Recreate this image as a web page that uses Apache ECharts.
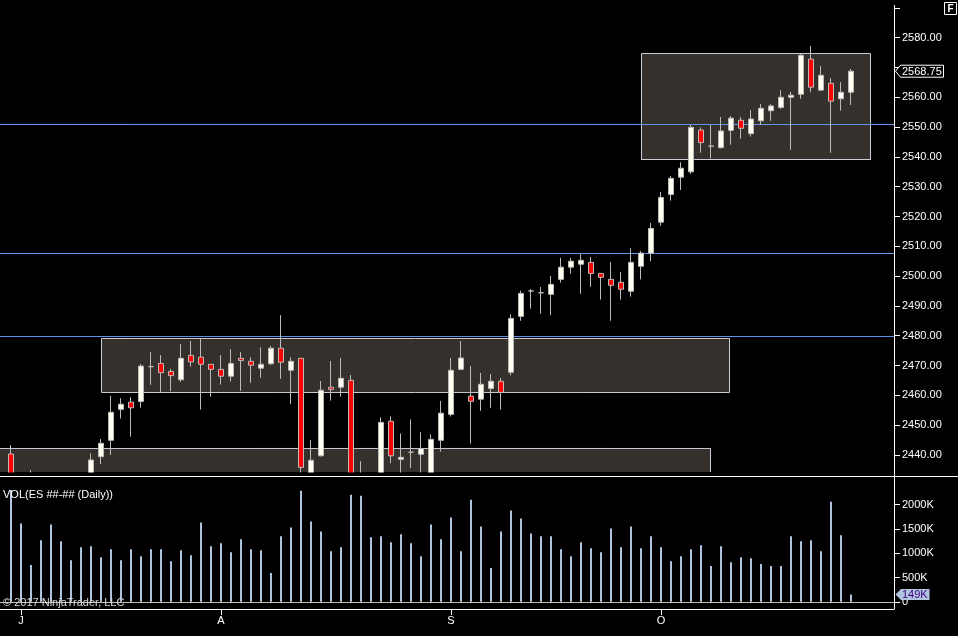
<!DOCTYPE html>
<html>
<head>
  <meta charset="utf-8">
  <title>ES Daily</title>
  <style>
    html, body { margin: 0; padding: 0; background: #000; }
    #chart { width: 958px; height: 636px; }
  </style>
</head>
<body>
  <div id="chart"></div>
</body>
<script src="https://cdn.jsdelivr.net/npm/echarts@6/dist/echarts.min.js"></script>
<script>
  // daily bars, index 0..84 (Jul - Oct)
  var opens = [2440.3, 2423, 2428, 2425, 2418, 2424, 2421, 2426, 2430, 2439.4,
    2444.9, 2455.3, 2457.7, 2457.9, 2469.6, 2470.7, 2468.0, 2465.2, 2473.4, 2472.8,
    2470.4, 2468.7, 2466.4, 2472.4, 2471.4, 2469.1, 2470.6, 2475.8, 2468.4, 2472.4,
    2430, 2439.7, 2462.7, 2462.7, 2465.0, 2428, 2425, 2422, 2451.3, 2438.5,
    2440.9, 2440.2, 2432, 2444.9, 2453.6, 2468.7, 2459.7, 2458.7, 2462.3, 2464.7,
    2467.7, 2486.5, 2495.0, 2494.4, 2493.9, 2498.9, 2503.0, 2504.0, 2504.6, 2500.9,
    2498.9, 2497.9, 2494.9, 2503.3, 2507.7, 2518.1, 2527.4, 2533.2, 2535.0, 2549.0,
    2543.6, 2543.1, 2548.9, 2552.3, 2547.8, 2552.1, 2555.5, 2556.6, 2560.0, 2561.0,
    2572.8, 2562.4, 2564.7, 2559.5, 2561.7];
  var highs = [2443.3, 2431, 2434.9, 2432, 2426, 2430, 2428, 2433, 2440.5, 2445.3,
    2459.8, 2459.0, 2459.4, 2470.5, 2474.5, 2473.5, 2468.9, 2477.2, 2478.2, 2479.1,
    2470.4, 2473.5, 2475.5, 2474.5, 2472.8, 2476.1, 2476.5, 2486.9, 2472.8, 2472.4,
    2445, 2464.8, 2471.5, 2472.5, 2466.8, 2437.9, 2432, 2452.6, 2452.9, 2447.2,
    2451.9, 2447.6, 2446.9, 2458.1, 2472.5, 2478.2, 2469.8, 2467.5, 2467.1, 2465.8,
    2487.2, 2495.1, 2495.7, 2496.3, 2500.0, 2506.1, 2506.1, 2507.4, 2506.4, 2501.0,
    2504.7, 2501.4, 2509.4, 2508.4, 2517.8, 2528.2, 2533.6, 2538.2, 2550.7, 2549.9,
    2550.7, 2553.4, 2553.7, 2553.4, 2555.7, 2557.8, 2557.7, 2562.4, 2561.8, 2574.8,
    2577.2, 2570.5, 2566.4, 2565.1, 2569.5];
  var lows = [2418, 2419, 2420, 2415, 2410, 2418, 2416, 2422, 2428, 2436.9,
    2440.0, 2452.2, 2446.1, 2455.8, 2463.5, 2461.1, 2461.4, 2464.5, 2469.6, 2455.2,
    2459.5, 2463.6, 2464.6, 2461.5, 2464.2, 2465.9, 2470.1, 2465.5, 2457.1, 2430,
    2428, 2439.5, 2458.2, 2459.5, 2425, 2418, 2417, 2420, 2437.2, 2430,
    2435.6, 2430, 2428, 2441.1, 2452.9, 2468.4, 2443.8, 2454.8, 2455.8, 2455.2,
    2466.7, 2485.0, 2489.1, 2487.4, 2486.9, 2497.8, 2500.8, 2494.1, 2496.4, 2492.1,
    2485.0, 2492.1, 2493.1, 2498.9, 2505.0, 2516.9, 2525.3, 2528.9, 2534.3, 2541.4,
    2539.5, 2542.8, 2544.1, 2546.1, 2546.8, 2550.7, 2552.1, 2556.1, 2542.4, 2559.5,
    2561.7, 2562.1, 2541.4, 2555.5, 2557.4];
  var closes = [2422, 2428, 2424, 2418, 2424, 2421, 2426, 2430, 2438.3, 2443.9,
    2454.3, 2457.0, 2455.8, 2469.8, 2469.6, 2467.6, 2466.6, 2472.4, 2471.2, 2470.4,
    2468.7, 2466.4, 2470.7, 2471.7, 2470.1, 2470.4, 2475.8, 2471.1, 2471.4, 2435.8,
    2438.2, 2461.7, 2462.0, 2465.7, 2428, 2425, 2421, 2450.9, 2439.7, 2439.2,
    2440.9, 2442.1, 2445.2, 2454.0, 2468.4, 2472.5, 2458.0, 2463.7, 2464.7, 2461.0,
    2485.8, 2494.2, 2495.0, 2494.4, 2497.2, 2503.0, 2505.0, 2505.3, 2500.9, 2499.6,
    2496.9, 2495.6, 2504.6, 2507.7, 2516.0, 2526.4, 2532.8, 2536.2, 2549.9, 2544.8,
    2543.6, 2548.7, 2553.0, 2549.6, 2552.7, 2556.3, 2557.1, 2560.0, 2560.7, 2574.1,
    2563.4, 2567.4, 2558.7, 2561.7, 2568.75];
  // volume in K contracts
  var volumes = [2300, 1612, 755, 1265, 1592, 1245, 857, 1122, 1143, 918,
    1082, 857, 1082, 939, 1082, 1082, 837, 1061, 959, 1633,
    1143, 1204, 1020, 1286, 1082, 1061, 592, 1347, 1531, 2286,
    1653, 1449, 1041, 1122, 2204, 2184, 1327, 1347, 1224, 1388,
    1204, 939, 1592, 1286, 1735, 1041, 2102, 1551, 694, 1449,
    1878, 1714, 1408, 1347, 1347, 1082, 939, 1224, 1102, 1020,
    1510, 1122, 1551, 1102, 1347, 1122, 837, 939, 1082, 1163,
    735, 1143, 816, 918, 898, 776, 735, 735, 1347, 1245,
    1265, 1041, 2061, 1367, 149];

  // month ticks on the bottom axis
  var monthIdx = [1, 21, 44, 65];
  var monthText = ['J', 'A', 'S', 'O'];
  // 2570 and 2590 carry a tick but no label (hidden by the price tag / panel top)
  var priceTicks = [2440, 2450, 2460, 2470, 2480, 2490, 2500, 2510, 2520, 2530, 2540, 2550, 2560, 2570, 2580, 2590];
  var priceLabels = [2440, 2450, 2460, 2470, 2480, 2490, 2500, 2510, 2520, 2530, 2540, 2550, 2560, 2580];
  var volTicks = [0, 500, 1000, 1500, 2000];

  // horizontal levels and shaded zones [x0, x1, yTop, yBottom]
  var levels = [2550.87, 2507.58, 2479.73];
  var zones = [
    [-1.1, 69.95, 2442.15, 2434.26],
    [9.05, 71.85, 2479.06, 2460.94],
    [63.05, 85.95, 2574.7, 2539.12]
  ];

  var xMin = -1.1, xMax = 88.3;
  var yMin = 2434.26, yMax = 2590.97;
  var font = 'Liberation Sans, Arial, sans-serif';
  var zoneFill = '#35302b';
  var zoneBorder = '#c8ccd6';

  var candles = opens.map(function (o, i) {
    return [i, o, closes[i], lows[i], highs[i]];
  });
  var volData = volumes.map(function (v, i) {
    return [i, v];
  });
  var last = closes[closes.length - 1];
  var lastVol = volumes[volumes.length - 1];

  var areaData = zones.map(function (z, i) {
    return [{
      xAxis: z[0], yAxis: z[2],
      itemStyle: { color: zoneFill, borderColor: zoneBorder, borderWidth: i === 0 ? 0 : 1 }
    }, { xAxis: z[1], yAxis: z[3] }];
  });

  function flatLine(data, color) {
    return {
      type: 'line', xAxisIndex: 0, yAxisIndex: 0, z: 1.5,
      data: data, symbol: 'none', silent: true, animation: false,
      lineStyle: { color: color, width: 1 }
    };
  }

  var series = [
    {
      type: 'candlestick',
      xAxisIndex: 0, yAxisIndex: 0,
      z: 2,
      data: candles,
      barWidth: 6,
      itemStyle: {
        color: '#fffff0', color0: '#ff0000',
        borderColor: '#bcbcbc', borderColor0: '#bcbcbc', borderColorDoji: '#bcbcbc',
        borderWidth: 1
      },
      markArea: { silent: true, z: 1, data: areaData }
    },
    {
      type: 'bar',
      xAxisIndex: 1, yAxisIndex: 1,
      z: 5,
      data: volData,
      barWidth: 2,
      itemStyle: { color: '#b0c4de' },
      markLine: {
        silent: true, z: 5.5, symbol: 'none',
        lineStyle: { color: '#c0c0c0', width: 1, type: 'solid' },
        label: { show: false },
        data: [{ yAxis: 0 }]
      }
    }
  ];
  levels.forEach(function (v) {
    series.push(flatLine([[xMin, v], [xMax, v]], '#6495ed'));
  });
  // first zone runs off the bottom of the panel: draw its top and right edges only
  var z0 = zones[0];
  series.push(flatLine([[z0[0], z0[2]], [z0[1], z0[2]], [z0[1], z0[3]]], zoneBorder));

  var chart = echarts.init(document.getElementById('chart'));
  var option = {
    backgroundColor: '#000',
    animation: false,
    grid: [
      { left: 0, top: 5, width: 894, height: 467 },
      { left: 0, top: 477, width: 894, height: 132 }
    ],
    xAxis: [
      { type: 'value', gridIndex: 0, min: xMin, max: xMax, show: false },
      {
        type: 'value', gridIndex: 1, min: xMin, max: xMax, z: 6,
        splitLine: { show: false },
        axisLine: { show: true, onZero: false, lineStyle: { color: '#fff', width: 1 } },
        axisTick: { show: true, length: 6, customValues: monthIdx, lineStyle: { color: '#fff' } },
        axisLabel: {
          customValues: monthIdx, margin: 6, color: '#fff', fontFamily: font, fontSize: 11,
          formatter: function (v) { return monthText[monthIdx.indexOf(Math.round(v))] || ''; }
        }
      }
    ],
    yAxis: [
      {
        type: 'value', gridIndex: 0, position: 'right', min: yMin, max: yMax, z: 6,
        splitLine: { show: false },
        axisLine: { show: false, onZero: false },
        axisTick: { show: true, length: 6, customValues: priceTicks, lineStyle: { color: '#fff' } },
        axisLabel: {
          customValues: priceLabels, margin: 8, color: '#fff', fontFamily: font, fontSize: 11,
          formatter: function (v) { return v.toFixed(2); }
        }
      },
      {
        type: 'value', gridIndex: 1, position: 'right', min: -148, max: 2568, z: 6,
        splitLine: { show: false },
        axisLine: { show: false, onZero: false },
        axisTick: { show: true, length: 6, customValues: volTicks, lineStyle: { color: '#fff' } },
        axisLabel: {
          customValues: volTicks, margin: 8, color: '#fff', fontFamily: font, fontSize: 11,
          formatter: function (v) { return v === 0 ? '0' : v + 'K'; }
        }
      }
    ],
    series: series,
    graphic: [
      { id: 'mask', type: 'rect', z: 3, shape: { x: 0, y: 472.5, width: 894, height: 164 }, style: { fill: '#000' } },
      { id: 'vline', type: 'line', z: 10, shape: { x1: 894.5, y1: 5, x2: 894.5, y2: 609 }, style: { stroke: '#fff', lineWidth: 1 } },
      { id: 'sep', type: 'line', z: 10, shape: { x1: 0, y1: 476.5, x2: 958, y2: 476.5 }, style: { stroke: '#fff', lineWidth: 1 } },
      { id: 'fbox', type: 'rect', z: 10, shape: { x: 944.5, y: 2.5, width: 12, height: 12 }, style: { fill: '#000', stroke: '#fff', lineWidth: 1 } },
      { id: 'ftxt', type: 'text', z: 11, x: 950.5, y: 9, style: { text: 'F', fill: '#fff', font: 'bold 10px ' + font, align: 'center', verticalAlign: 'middle' } },
      { id: 'voltxt', type: 'text', z: 10, x: 3, y: 494.5, style: { text: 'VOL(ES ##-## (Daily))', fill: '#fff', font: '11px ' + font, verticalAlign: 'middle' } },
      { id: 'copy', type: 'text', z: 10, x: 3, y: 603, style: { text: '\u00a9 2017 NinjaTrader, LLC', fill: '#d8d8d8', font: '11px ' + font, verticalAlign: 'middle' } }
    ]
  };
  chart.setOption(option);

  // last price / last volume tags on the right axis, placed through the axis scales
  var py = chart.convertToPixel({ yAxisIndex: 0 }, last);
  var vy = chart.convertToPixel({ yAxisIndex: 1 }, lastVol);
  chart.setOption({
    graphic: [
      {
        id: 'pTag', type: 'polygon', z: 12,
        shape: { points: [[895.5, py], [900.5, py - 6], [943.5, py - 6], [943.5, py + 6], [900.5, py + 6]] },
        style: { fill: '#000', stroke: '#fff', lineWidth: 1 }
      },
      { id: 'pTxt', type: 'text', z: 13, x: 902, y: py + 0.5, style: { text: last.toFixed(2), fill: '#fff', font: '11px ' + font, verticalAlign: 'middle' } },
      {
        id: 'vTag', type: 'polygon', z: 12,
        shape: { points: [[895.5, vy], [901, vy - 5.5], [929.5, vy - 5.5], [929.5, vy + 5.5], [901, vy + 5.5]] },
        style: { fill: '#b0c4de' }
      },
      { id: 'vTxt', type: 'text', z: 13, x: 902, y: vy + 0.5, style: { text: lastVol + 'K', fill: '#400080', font: '11px ' + font, verticalAlign: 'middle' } }
    ]
  });
</script>
</html>
